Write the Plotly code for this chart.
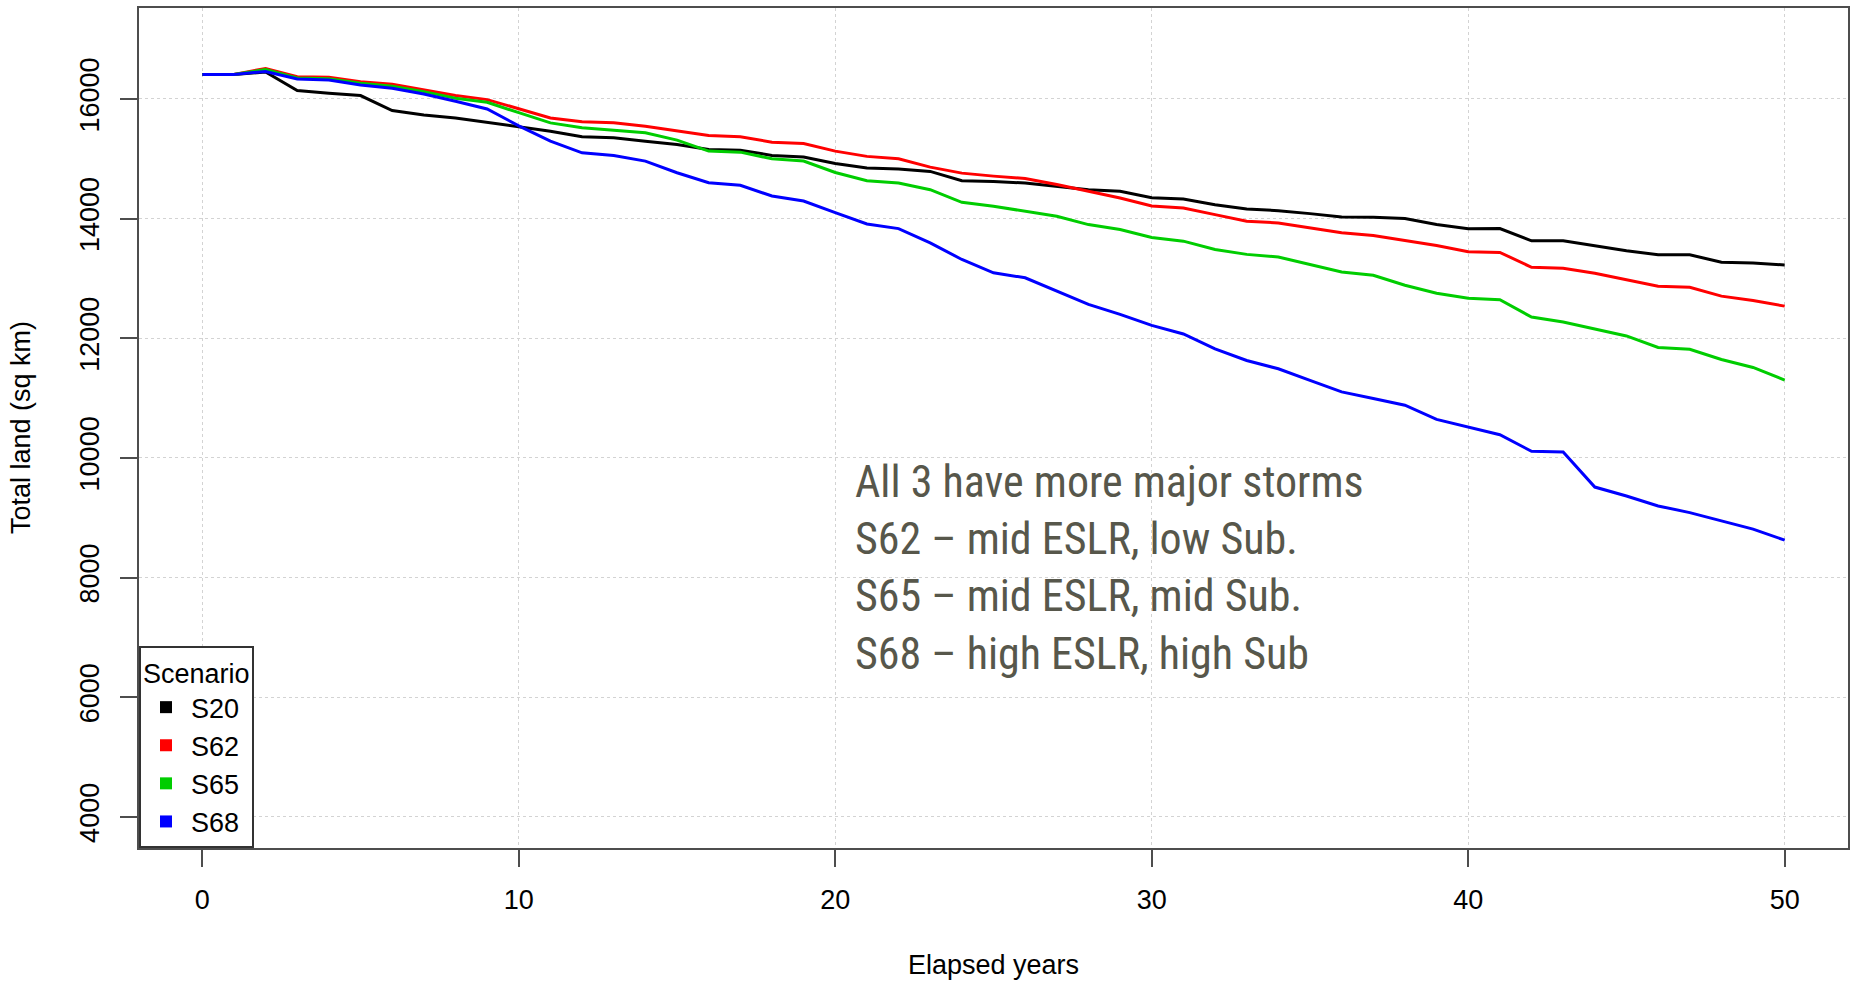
import plotly.graph_objects as go

# Elapsed years of the simulation
years = list(range(0, 51))

# Total land area (sq km) per scenario
s20 = [16410, 16410, 16450, 16140, 16094, 16056, 15806, 15733, 15683, 15611,
       15530, 15461, 15367, 15350, 15294, 15239, 15156, 15144, 15056, 15028,
       14920, 14844, 14828, 14789, 14633, 14622, 14594, 14539, 14483, 14456,
       14350, 14327, 14233, 14161, 14133, 14083, 14028, 14022, 14000, 13900,
       13830, 13834, 13629, 13629, 13546, 13463, 13396, 13396, 13269, 13258,
       13224]
s62 = [16410, 16410, 16510, 16372, 16361, 16289, 16244, 16156, 16056, 15989,
       15833, 15683, 15617, 15600, 15544, 15461, 15389, 15367, 15278, 15256,
       15128, 15040, 15000, 14860, 14760, 14710, 14670, 14570, 14460, 14345,
       14210, 14177, 14066, 13956, 13928, 13845, 13762, 13717, 13634, 13551,
       13445, 13435, 13186, 13169, 13086, 12981, 12870, 12853, 12704, 12632,
       12537]
s65 = [16410, 16410, 16490, 16350, 16339, 16261, 16211, 16122, 16011, 15944,
       15770, 15600, 15517, 15478, 15433, 15311, 15128, 15111, 15000, 14961,
       14770, 14633, 14594, 14483, 14272, 14206, 14122, 14039, 13900, 13817,
       13685, 13623, 13485, 13402, 13357, 13235, 13108, 13053, 12886, 12753,
       12670, 12643, 12355, 12271, 12161, 12039, 11845, 11817, 11645, 11512,
       11302]
s68 = [16410, 16410, 16460, 16333, 16317, 16233, 16178, 16083, 15961, 15833,
       15550, 15294, 15100, 15056, 14961, 14767, 14600, 14556, 14378, 14294,
       14100, 13911, 13833, 13594, 13317, 13094, 13011, 12789, 12567, 12400,
       12215, 12072, 11822, 11629, 11490, 11296, 11103, 10992, 10881, 10643,
       10515, 10388, 10111, 10100, 9513, 9363, 9197, 9086, 8947, 8809,
       8626]

scenarios = ["S20", "S62", "S65", "S68"]
series = [s20, s62, s65, s68]
colors = ["#000000", "#ff0000", "#00cd00", "#0000ff"]

x_ticks = [0, 10, 20, 30, 40, 50]
y_ticks = [4000, 6000, 8000, 10000, 12000, 14000, 16000]

note_lines = [
    "All 3 have more major storms",
    "S62 \u2013 mid ESLR, low Sub.",
    "S65 \u2013 mid ESLR, mid Sub.",
    "S68 \u2013 high ESLR, high Sub",
]

W, H = 1857, 982
L, R, T, B = 139, 9, 6, 134
PW, PH = W - L - R, H - T - B

BASE_FONT = "Liberation Sans, Arial, Helvetica, sans-serif"

fig = go.Figure()

for name, vals, col in zip(scenarios, series, colors):
    fig.add_trace(go.Scatter(
        x=years, y=vals, mode="lines", name=name,
        line=dict(color=col, width=3), showlegend=False,
        hoverinfo="x+y+name",
    ))

# square legend keys
for name, col in zip(scenarios, colors):
    fig.add_trace(go.Scatter(
        x=[None], y=[None], mode="markers", name=name,
        marker=dict(symbol="square", size=12, color=col),
        showlegend=True,
    ))

axis_common = dict(
    showline=True, mirror=True, linecolor="#4d4d4d", linewidth=2,
    ticks="outside", ticklen=17, tickwidth=2, tickcolor="#4d4d4d",
    showgrid=True, gridcolor="#d3d3d3", gridwidth=1, griddash="dot",
    zeroline=False,
    tickfont=dict(family=BASE_FONT, size=27, color="#000000"),
)

fig.update_xaxes(range=[-2, 52], tickmode="array", tickvals=x_ticks,
                 ticktext=[str(v) for v in x_ticks],
                 ticklabelstandoff=10, **axis_common)
fig.update_yaxes(range=[3480, 17520], tickmode="array", tickvals=y_ticks,
                 ticktext=[str(v) for v in y_ticks],
                 tickangle=-90, ticklabelstandoff=10, **axis_common)

def px_x(p):
    return (p - L) / PW

def px_y(p):
    return (H - B - p) / PH

fig.add_annotation(
    text="Elapsed years", xref="paper", yref="paper",
    x=0.5, y=px_y(965), xanchor="center", yanchor="middle",
    showarrow=False, font=dict(family=BASE_FONT, size=27, color="#000000"),
)
fig.add_annotation(
    text="Total land (sq km)", xref="paper", yref="paper",
    x=px_x(21), y=0.5, xanchor="center", yanchor="middle", textangle=-90,
    showarrow=False, font=dict(family=BASE_FONT, size=27, color="#000000"),
)
fig.add_annotation(
    text="<br>".join(note_lines), xref="paper", yref="paper",
    x=px_x(853), y=px_y(567), xanchor="left", yanchor="middle", align="left",
    showarrow=False,
    font=dict(family="Liberation Sans Narrow, Arial Narrow, Roboto Condensed, Roboto, sans-serif",
              size=44, color="#57574b"),
)

fig.update_layout(
    width=W, height=H,
    margin=dict(l=L, r=R, t=T, b=B, pad=0),
    paper_bgcolor="#ffffff", plot_bgcolor="#ffffff",
    showlegend=True,
    legend=dict(
        x=0, y=0, xanchor="left", yanchor="bottom",
        bgcolor="#ffffff", bordercolor="#333333", borderwidth=2,
        title=dict(text="Scenario", font=dict(family=BASE_FONT, size=27, color="#000000")),
        font=dict(family=BASE_FONT, size=27, color="#000000"),
        tracegroupgap=0, itemsizing="constant", itemwidth=40,
    ),
)

fig.write_html("out.html")
